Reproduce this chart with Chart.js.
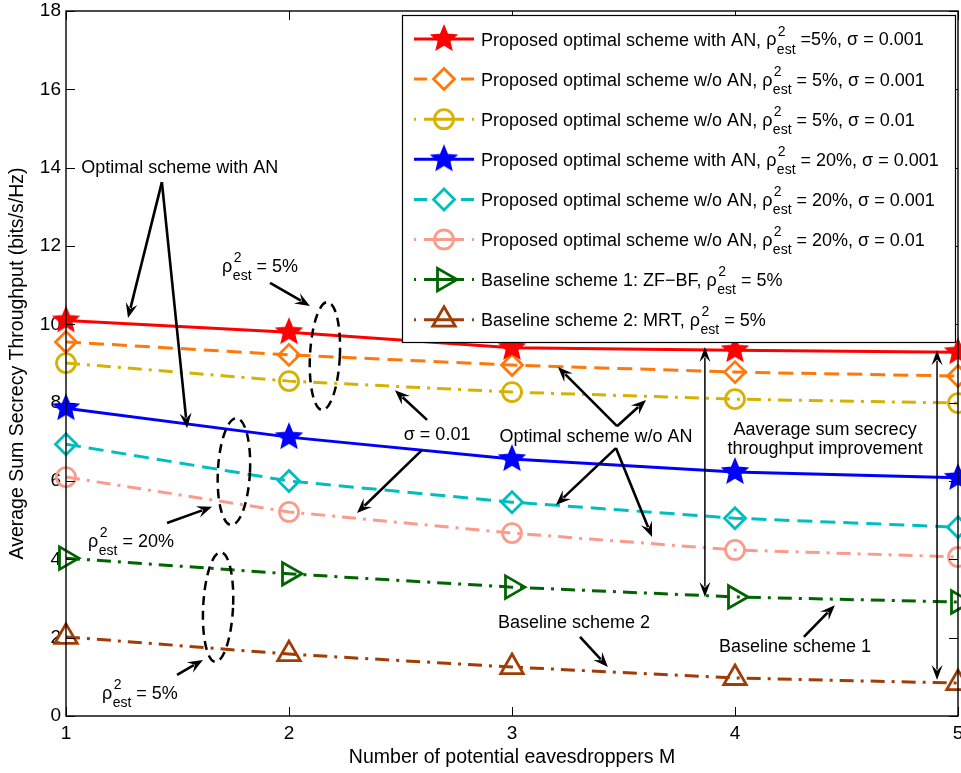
<!DOCTYPE html>
<html><head><meta charset="utf-8">
<script src="https://cdn.jsdelivr.net/npm/chart.js@4/dist/chart.umd.min.js"></script>
<style>html,body{margin:0;padding:0;background:#fff;overflow:hidden}canvas{display:block}</style>
</head><body>
<canvas id="c" width="961" height="773"></canvas>
<script>
// ---------------- data ----------------
const M = [1, 2, 3, 4, 5];
const withAN_5 = [10.10, 9.80, 9.40, 9.34, 9.29];
const woAN_5_001 = [9.55, 9.22, 8.96, 8.78, 8.68];
const woAN_5_01 = [9.01, 8.55, 8.27, 8.09, 7.99];
const withAN_20 = [7.86, 7.12, 6.56, 6.23, 6.08];
const woAN_20_001 = [6.94, 6.00, 5.46, 5.05, 4.82];
const woAN_20_01 = [6.10, 5.21, 4.67, 4.24, 4.06];
const baseline1_ZFBF = [4.03, 3.63, 3.29, 3.04, 2.91];
const baseline2_MRT = [2.02, 1.58, 1.25, 0.97, 0.84];
const xTicks = [1, 2, 3, 4, 5];
const yTicks = [0, 2, 4, 6, 8, 10, 12, 14, 16, 18];
const xTitle = 'Number of potential eavesdroppers M';
const yTitle = 'Average Sum Secrecy Throughput (bits/s/Hz)';
const legendPre = [
  'Proposed optimal scheme with AN, ', 'Proposed optimal scheme w/o AN, ', 'Proposed optimal scheme w/o AN, ',
  'Proposed optimal scheme with AN, ', 'Proposed optimal scheme w/o AN, ', 'Proposed optimal scheme w/o AN, ',
  'Baseline scheme 1: ZF\u2212BF, ', 'Baseline scheme 2: MRT, '];
const legendPost = [' =5%, \u03c3 = 0.001', ' = 5%, \u03c3 = 0.001', ' = 5%, \u03c3 = 0.01',
  ' = 20%, \u03c3 = 0.001', ' = 20%, \u03c3 = 0.001', ' = 20%, \u03c3 = 0.01', ' = 5%', ' = 5%'];

// ---------------- styles ----------------
const FONT = "'Liberation Sans', Arial, Helvetica, sans-serif";
const DASH = [15, 8], DASHDOT = [14, 7, 3, 7];
const seriesStyle = [
  {color: '#FF0000', dash: [], kind: 'solid', marker: 'star'},
  {color: 'rgb(255,120,10)', dash: DASH, kind: 'dash', marker: 'diamond'},
  {color: 'rgb(214,178,0)', dash: DASHDOT, kind: 'dashdot', marker: 'circle'},
  {color: '#0000FF', dash: [], kind: 'solid', marker: 'star'},
  {color: 'rgb(0,190,190)', dash: DASH, kind: 'dash', marker: 'diamond'},
  {color: 'rgb(250,155,140)', dash: DASHDOT, kind: 'dashdot', marker: 'circle'},
  {color: 'rgb(0,100,0)', dash: DASHDOT, kind: 'dashdot', marker: 'triRight'},
  {color: 'rgb(160,60,5)', dash: DASHDOT, kind: 'dashdot', marker: 'triUp'}
];
const seriesValues = [withAN_5, woAN_5_001, woAN_5_01, withAN_20, woAN_20_001, woAN_20_01, baseline1_ZFBF, baseline2_MRT];

function makeStar(color, R) {
  const s = Math.ceil(R * 2 + 4);
  const c = document.createElement('canvas'); c.width = s; c.height = s;
  const g = c.getContext('2d');
  const cx = s / 2, cy = s / 2;
  g.beginPath();
  for (let i = 0; i < 10; i++) {
    const r = i % 2 ? R * 0.45 : R;
    const a = -Math.PI / 2 + i * Math.PI / 5;
    g.lineTo(cx + r * Math.cos(a), cy + r * Math.sin(a));
  }
  g.closePath(); g.fillStyle = color; g.fill();
  g.strokeStyle = color; g.lineWidth = 1.5; g.stroke();
  return c;
}
const starImgs = seriesStyle.map(s => s.marker === 'star' ? makeStar(s.color, 13) : null);

function pointOpts(s, i) {
  switch (s.marker) {
    case 'star': return {pointStyle: starImgs[i], pointRadius: 12};
    case 'diamond': return {pointStyle: 'rectRot', pointRadius: 10.5};
    case 'circle': return {pointStyle: 'circle', pointRadius: 9.5};
    case 'triRight': return {pointStyle: 'triangle', pointRadius: 13, pointRotation: 90};
    case 'triUp': return {pointStyle: 'triangle', pointRadius: 13, pointRotation: 0};
  }
}

const datasets = seriesValues.map((vals, i) => {
  const s = seriesStyle[i];
  return Object.assign({
    label: legendPre[i] + legendPost[i],
    data: M.map((m, k) => ({x: m, y: vals[k]})),
    borderColor: s.color, borderWidth: 3, borderDash: s.dash,
    pointBorderColor: s.color, pointBackgroundColor: 'rgba(0,0,0,0)', pointBorderWidth: 2.8,
    tension: 0, fill: false, clip: false
  }, pointOpts(s, i));
});

// ---------------- annotations (data units) ----------------
const annoTexts = [
  {t: 'Optimal scheme with AN', x: 1.51, y: 13.99},
  {t: '\u03c3 = 0.01', x: 2.664, y: 7.17},
  {t: 'Optimal scheme w/o AN', x: 3.377, y: 7.12},
  {t: 'Aaverage sum secrecy', x: 4.404, y: 7.30},
  {t: 'throughput improvement', x: 4.404, y: 6.82},
  {t: 'Baseline scheme 2', x: 3.278, y: 2.37},
  {t: 'Baseline scheme 1', x: 4.269, y: 1.76}
];
const annoRho = [
  {v: ' = 5%', x: 1.700, y: 11.51},
  {v: ' = 20%', x: 1.099, y: 4.49},
  {v: ' = 5%', x: 1.161, y: 0.61}
];
const annoArrows = [
  [1.430, 13.63, 1.278, 10.16], [1.430, 13.63, 1.543, 7.35],
  [1.915, 11.06, 2.094, 10.47], [1.453, 4.93, 1.655, 5.34], [1.498, 1.05, 1.614, 1.43],
  [2.619, 7.56, 2.475, 8.32], [2.596, 6.79, 2.305, 5.18],
  [3.471, 7.40, 3.206, 8.91], [3.471, 7.40, 3.601, 8.07],
  [3.466, 6.84, 3.197, 5.39], [3.466, 6.84, 3.628, 4.57],
  [3.305, 2.02, 3.430, 1.25], [4.309, 2.02, 4.448, 2.83]
];
const annoDouble = [[3.865, 9.42, 3.865, 3.04], [4.906, 9.34, 4.906, 0.92]];
const annoEllipses = [[2.161, 9.19, 0.067, 1.38], [1.753, 6.24, 0.072, 1.366], [1.682, 2.78, 0.067, 1.40]];

// ---------------- drawing helpers ----------------
function arrowHead(ctx, x, y, ang, len, w) {
  ctx.save(); ctx.translate(x, y); ctx.rotate(ang);
  ctx.beginPath(); ctx.moveTo(0, 0); ctx.lineTo(-len, -w / 2); ctx.lineTo(-len * 0.62, 0); ctx.lineTo(-len, w / 2);
  ctx.closePath(); ctx.fill(); ctx.restore();
}
function arrow(ctx, x1, y1, x2, y2, lw, len, w) {
  const a = Math.atan2(y2 - y1, x2 - x1);
  ctx.lineWidth = lw; ctx.beginPath(); ctx.moveTo(x1, y1);
  ctx.lineTo(x2 - Math.cos(a) * len * 0.7, y2 - Math.sin(a) * len * 0.7); ctx.stroke();
  arrowHead(ctx, x2, y2, a, len, w);
}
function dblArrow(ctx, x1, y1, x2, y2, lw, len, w) {
  const a = Math.atan2(y2 - y1, x2 - x1);
  ctx.lineWidth = lw; ctx.beginPath();
  ctx.moveTo(x1 + Math.cos(a) * len * 0.7, y1 + Math.sin(a) * len * 0.7);
  ctx.lineTo(x2 - Math.cos(a) * len * 0.7, y2 - Math.sin(a) * len * 0.7); ctx.stroke();
  arrowHead(ctx, x2, y2, a, len, w); arrowHead(ctx, x1, y1, a + Math.PI, len, w);
}
// rho^2_est label, x = left, yc = vertical centre of main text
function rhoLabel(ctx, x, yc, post, size) {
  const base = yc + size * 0.36;
  const small = Math.round(size * 0.78);
  ctx.textAlign = 'left'; ctx.textBaseline = 'alphabetic';
  ctx.font = size + 'px ' + FONT; ctx.fillText('\u03c1', x, base);
  x += ctx.measureText('\u03c1').width + 0.5;
  ctx.font = small + 'px ' + FONT;
  ctx.fillText('2', x + 1, base - size * 0.55);
  ctx.fillText('est', x, base + size * 0.45);
  x += Math.max(ctx.measureText('est').width, ctx.measureText('2').width + 1);
  ctx.font = size + 'px ' + FONT; ctx.fillText(post, x, base);
}
function drawMarker(ctx, i, x, y) {
  const s = seriesStyle[i];
  ctx.save(); ctx.setLineDash([]); ctx.strokeStyle = s.color; ctx.lineWidth = 2.8; ctx.lineJoin = 'miter';
  if (s.marker === 'star') { const im = starImgs[i]; ctx.drawImage(im, x - im.width / 2, y - im.height / 2); }
  else {
    ctx.beginPath();
    if (s.marker === 'diamond') { const r = 10.5; ctx.moveTo(x, y - r); ctx.lineTo(x + r, y); ctx.lineTo(x, y + r); ctx.lineTo(x - r, y); ctx.closePath(); }
    else if (s.marker === 'circle') { ctx.arc(x, y, 9.5, 0, Math.PI * 2); }
    else {
      const r = 13, rot = s.marker === 'triRight' ? Math.PI / 2 : 0;
      for (let k = 0; k < 3; k++) { const a = rot + k * 2 * Math.PI / 3; ctx.lineTo(x + Math.sin(a) * r, y - Math.cos(a) * r); }
      ctx.closePath();
    }
    ctx.stroke();
  }
  ctx.restore();
}

const overlay = {
  id: 'overlay',
  afterDraw(chart) {
    const ctx = chart.ctx, xs = chart.scales.x, ys = chart.scales.y, ca = chart.chartArea;
    const X = v => xs.getPixelForValue(v), Y = v => ys.getPixelForValue(v);
    ctx.save();
    ctx.fillStyle = '#000'; ctx.strokeStyle = '#000'; ctx.lineCap = 'butt';
    // ellipses
    ctx.lineWidth = 2.5; ctx.setLineDash([9, 6]);
    annoEllipses.forEach(e => {
      const cx = X(e[0]), cy = Y(e[1]);
      const rx = X(e[0] + e[2]) - cx, ry = cy - Y(e[1] + e[3]);
      ctx.beginPath(); ctx.ellipse(cx, cy, rx, ry, 0.05, 0, Math.PI * 2); ctx.stroke();
    });
    ctx.setLineDash([]);
    // arrows
    annoArrows.forEach(a => arrow(ctx, X(a[0]), Y(a[1]), X(a[2]), Y(a[3]), 2.6, 15, 12));
    annoDouble.forEach(a => dblArrow(ctx, X(a[0]), Y(a[1]), X(a[2]), Y(a[3]), 1.5, 15, 11));
    // texts
    ctx.font = '18px ' + FONT; ctx.textAlign = 'center'; ctx.textBaseline = 'middle';
    annoTexts.forEach(t => ctx.fillText(t.t, X(t.x), Y(t.y)));
    annoRho.forEach(r => rhoLabel(ctx, X(r.x), Y(r.y), r.v, 18));

    // axes box and inward ticks
    ctx.strokeStyle = '#000'; ctx.lineWidth = 1.4; ctx.setLineDash([]);
    ctx.strokeRect(ca.left, ca.top, ca.right - ca.left, ca.bottom - ca.top);
    ctx.lineWidth = 1; ctx.beginPath();
    xTicks.forEach(v => { const px = Math.round(X(v)) + 0.5; ctx.moveTo(px, ca.bottom); ctx.lineTo(px, ca.bottom - 9); ctx.moveTo(px, ca.top); ctx.lineTo(px, ca.top + 9); });
    yTicks.forEach(v => { const py = Math.round(Y(v)) + 0.5; ctx.moveTo(ca.left, py); ctx.lineTo(ca.left + 9, py); ctx.moveTo(ca.right, py); ctx.lineTo(ca.right - 9, py); });
    ctx.stroke();

    // legend (on top)
    const L = 402, T = 15, R = 955, B = 342;
    ctx.fillStyle = '#fff'; ctx.fillRect(L, T, R - L, B - T);
    ctx.strokeStyle = '#000'; ctx.lineWidth = 1.2; ctx.strokeRect(L + 0.5, T + 0.5, R - L, B - T);
    for (let i = 0; i < seriesStyle.length; i++) {
      const s = seriesStyle[i], y = 39 + 40.1 * i;
      ctx.save(); ctx.strokeStyle = s.color; ctx.lineWidth = 3;
      if (s.kind === 'dash') ctx.setLineDash([13, 34]);
      else if (s.kind === 'dashdot') ctx.setLineDash([2, 8, 40, 8]);
      ctx.beginPath(); ctx.moveTo(414, y); ctx.lineTo(474, y); ctx.stroke(); ctx.restore();
      drawMarker(ctx, i, 444, y);
      ctx.fillStyle = '#000'; ctx.font = '18px ' + FONT; ctx.textAlign = 'left'; ctx.textBaseline = 'alphabetic';
      const base = y + 6.5;
      ctx.fillText(legendPre[i], 481, base);
      const w = ctx.measureText(legendPre[i]).width;
      rhoLabel(ctx, 481 + w, y, legendPost[i], 18);
    }
    ctx.restore();
  }
};

new Chart(document.getElementById('c'), {
  type: 'line',
  data: {datasets},
  options: {
    responsive: false, animation: false, events: [],
    layout: {autoPadding: false, padding: {left: 0, right: 3, top: 11, bottom: 0}},
    plugins: {legend: {display: false}, tooltip: {enabled: false}},
    scales: {
      x: {
        type: 'linear', min: 1, max: 5,
        afterBuildTicks: s => { s.ticks = xTicks.map(v => ({value: v})); },
        ticks: {font: {family: FONT, size: 19}, color: '#000', padding: 6, maxRotation: 0, autoSkip: false},
        grid: {display: false, drawTicks: false}, border: {display: false},
        title: {display: true, text: xTitle, font: {family: FONT, size: 19.5}, color: '#000', padding: {top: 0, bottom: 4}},
        afterFit: s => { s.height = 57; s.paddingLeft = 0; s.paddingRight = 0; }
      },
      y: {
        type: 'linear', min: 0, max: 18,
        afterBuildTicks: s => { s.ticks = yTicks.map(v => ({value: v})); },
        ticks: {font: {family: FONT, size: 19}, color: '#000', padding: 5, autoSkip: false},
        grid: {display: false, drawTicks: false}, border: {display: false},
        title: {display: true, text: yTitle, font: {family: FONT, size: 19.5}, color: '#000', padding: {top: 6, bottom: 0}},
        afterFit: s => { s.width = 66; s.paddingTop = 0; s.paddingBottom = 0; }
      }
    }
  },
  plugins: [overlay]
});
</script>
</body></html>
